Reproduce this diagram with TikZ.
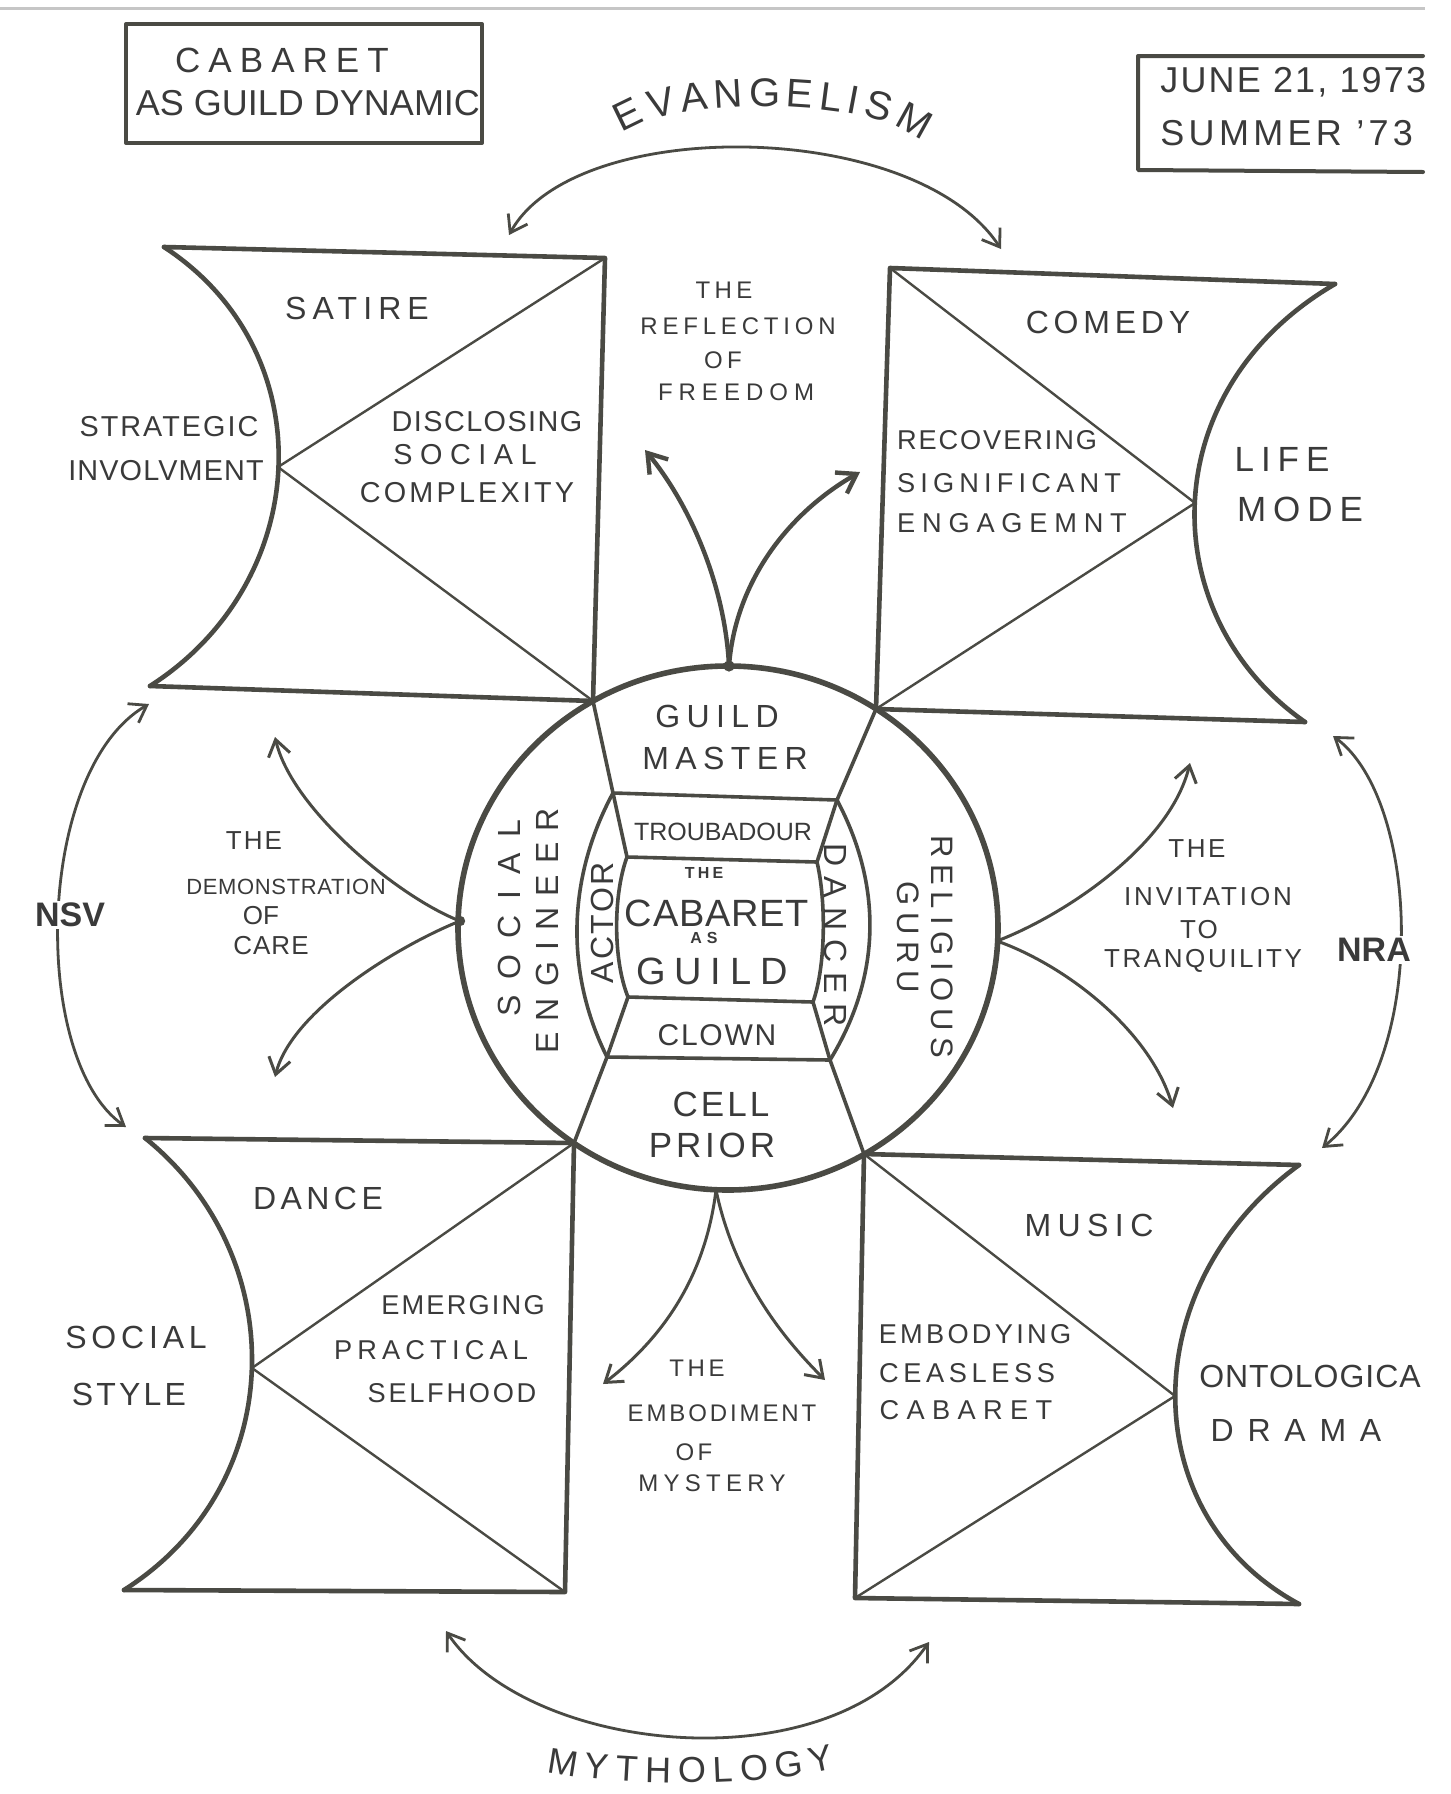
\documentclass[tikz,border=0pt]{standalone}
\usepackage{fontspec}
\setmainfont{Liberation Sans}
\usetikzlibrary{arrows.meta,decorations.text}
\definecolor{lc}{RGB}{74,74,68}
\definecolor{tc}{RGB}{58,58,58}
\newcommand\hsz[2]{\fontsize{#1}{#1}\selectfont\addfontfeature{LetterSpace=#2}}
\begin{document}
\begin{tikzpicture}[x=0.5pt,y=-0.5pt,
  outl/.style={draw=lc, line width=2.3pt, line join=round, line cap=round},
  diag/.style={draw=lc, line width=1.2pt, line cap=round},
  circ/.style={draw=lc, line width=2.8pt},
  inner/.style={draw=lc, line width=1.8pt, line cap=round, line join=round},
  arr/.style={draw=lc, line width=1.5pt, -{Straight Barb[length=8pt,width=11pt]}},
  arrw/.style={draw=lc, line width=2.2pt, -{Straight Barb[length=9pt,width=12pt]}},
  darr/.style={draw=lc, line width=1.4pt, {Straight Barb[length=8pt,width=11pt]}-{Straight Barb[length=8pt,width=11pt]}},
  lbl/.style={text=tc, inner sep=0pt}]
\fill[white] (0,0) rectangle (1451,1794);
\useasboundingbox (0,0) rectangle (1451,1794);
% top scan edge
\draw[gray!45, line width=1.5pt] (0,8) -- (1425,8);

% ---------- title box and date box
\draw[outl, line width=2pt] (126,24) rectangle (482,143);
\node[lbl, font=\hsz{17.5}{23}] (t1) at (282,60) {CABARET};
\node[lbl, font=\hsz{18}{0}] (t2) at (308,103) {AS GUILD DYNAMIC};
\draw[outl, line width=2pt] (1423,56) -- (1138,56) -- (1138,170) -- (1423,172);
\node[lbl, font=\hsz{18}{6}, anchor=west] (d1) at (1160,82) {JUNE 21, 1973};
\node[lbl, font=\hsz{18}{12}, anchor=west] (d2) at (1160,133) {SUMMER '73};

% ---------- circle
\coordinate (UL) at (593,701);
\coordinate (UR) at (876,709);
\coordinate (LL) at (574,1143);
\coordinate (LR) at (864,1154);
\draw[circ] (728,928) ellipse [x radius=135pt, y radius=131pt];

% ---------- top-left square (SATIRE)
\coordinate (A1) at (164,247); \coordinate (B1) at (605,258);
\coordinate (D1) at (150,686); \coordinate (E1) at (278,467);
\draw[outl] (A1) -- (B1) -- (UL) -- (D1);
\draw[outl] (A1) .. controls (325,352) and (313,582) .. (D1);
\draw[diag] (B1) -- (E1) -- (UL);

% ---------- top-right square (COMEDY)
\coordinate (A2) at (890,268); \coordinate (B2) at (1335,284);
\coordinate (C2) at (1305,722); \coordinate (E2) at (1195,503);
\draw[outl] (B2) -- (A2) -- (UR) -- (C2);
\draw[outl] (B2) .. controls (1153,390) and (1153,616) .. (C2);
\draw[diag] (A2) -- (E2) -- (UR);

% ---------- bottom-left square (DANCE)
\coordinate (A3) at (145,1138); \coordinate (C3) at (565,1592);
\coordinate (D3) at (124,1590); \coordinate (E3) at (252,1368);
\draw[outl] (A3) -- (LL) -- (C3) -- (D3);
\draw[outl] (A3) .. controls (291,1255) and (291,1484) .. (D3);
\draw[diag] (LL) -- (E3) -- (C3);

% ---------- bottom-right square (MUSIC)
\coordinate (B4) at (1299,1165); \coordinate (C4) at (1299,1604);
\coordinate (D4) at (855,1598); \coordinate (E4) at (1175,1396);
\draw[outl] (B4) -- (LR) -- (D4) -- (C4);
\draw[outl] (B4) .. controls (1134,1285) and (1134,1515) .. (C4);
\draw[diag] (LR) -- (E4) -- (D4);

% ---------- inner structure
\coordinate (P1) at (613,793); \coordinate (P2) at (837,800);
\coordinate (P3) at (627,857); \coordinate (P4) at (817,862);
\coordinate (P5) at (628,997); \coordinate (P6) at (813,1002);
\coordinate (P7) at (607,1057); \coordinate (P8) at (830,1060);
\draw[inner] (UL) -- (P1) -- (P2) -- (UR);
\draw[inner] (P1) -- (P3) -- (P4) -- (P2);
\draw[inner] (P5) -- (P6);
\draw[inner] (P5) -- (P7) -- (P8) -- (P6);
\draw[inner] (P7) -- (LL);
\draw[inner] (P8) -- (LR);
\draw[inner] (P1) .. controls (566,880) and (566,975) .. (P7);
\draw[inner] (P3) .. controls (613,895) and (613,960) .. (P5);
\draw[inner] (P2) .. controls (882,885) and (882,975) .. (P8);
\draw[inner] (P4) .. controls (826,900) and (826,965) .. (P6);

% ---------- arrows from the circle
\coordinate (rf0) at (729,666); \coordinate (rf1) at (645,450); \coordinate (rf2) at (860,472);
\draw[arrw] (rf0) .. controls (725,585) and (690,505) .. (rf1);
\draw[arrw] (rf0) .. controls (735,585) and (785,515) .. (rf2);
\fill[lc] (rf0) circle (2.8pt);

\coordinate (dm0) at (460,921); \coordinate (dm1) at (275,737); \coordinate (dm2) at (275,1077);
\draw[arr] (dm0) .. controls (400,898) and (292,810) .. (dm1);
\draw[arr] (dm0) .. controls (400,945) and (292,1010) .. (dm2);
\fill[lc] (dm0) circle (2.6pt);

\coordinate (iv0) at (997,941); \coordinate (iv1) at (1190,763); \coordinate (iv2) at (1173,1108);
\draw[arr] (iv0) .. controls (1065,915) and (1170,845) .. (iv1);
\draw[arr] (iv0) .. controls (1065,965) and (1150,1030) .. (iv2);

\coordinate (my0) at (716,1190); \coordinate (my1) at (603,1384); \coordinate (my2) at (825,1380);
\draw[arr] (my0) .. controls (705,1280) and (660,1340) .. (my1);
\draw[arr] (my0) .. controls (735,1280) and (785,1340) .. (my2);

% ---------- outer double arrows
\coordinate (evL) at (509,235); \coordinate (evR) at (1001,249);
\draw[darr] (evL) .. controls (575,115) and (915,118) .. (evR);
\coordinate (nsT) at (149,704); \coordinate (nsB) at (126,1127);
\draw[darr] (nsT) .. controls (35,770) and (30,1060) .. (nsB);
\coordinate (nrT) at (1333,736); \coordinate (nrB) at (1322,1148);
\draw[darr] (nrT) .. controls (1420,800) and (1430,1060) .. (nrB);
\coordinate (mtL) at (446,1631); \coordinate (mtR) at (929,1642);
\draw[darr] (mtL) .. controls (530,1755) and (830,1785) .. (mtR);

% ---------- curved labels
\path[decorate, decoration={text along path, text color=tc,
   text={|\hsz{20}{0}|EVANGELISM}, text align={fit to path}}]
   (622,134) .. controls (672,96) and (872,96) .. (922,142);
\path[decorate, decoration={text along path, text color=tc,
   text={|\hsz{18}{0}|MYTHOLOGY}, text align={fit to path}}]
   (547,1772) .. controls (620,1787) and (760,1787) .. (835,1768);

% ---------- centre labels
\node[lbl, font=\hsz{12}{18}] (rf_a) at (724,290) {THE};
\node[lbl, font=\hsz{12}{20}] (rf_b) at (738,326) {REFLECTION};
\node[lbl, font=\hsz{12}{18}] (rf_c) at (723,360) {OF};
\node[lbl, font=\hsz{12}{25}] (rf_d) at (736,392) {FREEDOM};

\node[lbl, font=\hsz{16}{19}] (sat) at (357,308) {SATIRE};
\node[lbl, font=\hsz{14.4}{5}] (sat_a) at (487,422) {DISCLOSING};
\node[lbl, font=\hsz{14.4}{26}] (sat_b) at (465,455) {SOCIAL};
\node[lbl, font=\hsz{14.4}{11}] (sat_c) at (467,493) {COMPLEXITY};
\node[lbl, font=\hsz{14.4}{7}] (sat_d) at (169,427) {STRATEGIC};
\node[lbl, font=\hsz{14.4}{4}] (sat_e) at (166,471) {INVOLVMENT};

\node[lbl, font=\hsz{16}{15}] (com) at (1108,322) {COMEDY};
\node[lbl, font=\hsz{13.6}{7}] (com_a) at (997,440) {RECOVERING};
\node[lbl, font=\hsz{13.6}{19}] (com_b) at (1009,483) {SIGNIFICANT};
\node[lbl, font=\hsz{13.6}{25}] (com_c) at (1012,523) {ENGAGEMNT};
\node[lbl, font=\hsz{17.5}{20}] (com_d) at (1282,459) {LIFE};
\node[lbl, font=\hsz{17.5}{20}] (com_e) at (1300,509) {MODE};

\node[lbl, font=\hsz{16}{20}] (gm_a) at (717,716) {GUILD};
\node[lbl, font=\hsz{16}{20}] (gm_b) at (725,758) {MASTER};
\node[lbl, font=\hsz{12.5}{0}] (trb) at (723,832) {TROUBADOUR};
\node[lbl, font=\bfseries\hsz{8}{20}] (cg_a) at (704,873) {THE};
\node[lbl, font=\hsz{19}{2}] (cg_b) at (717,913) {CABARET};
\node[lbl, font=\bfseries\hsz{8}{30}] (cg_c) at (704,938) {AS};
\node[lbl, font=\hsz{19}{23}] (cg_d) at (712,971) {GUILD};
\node[lbl, font=\hsz{15}{6}] (clw) at (717,1035) {CLOWN};
\node[lbl, font=\hsz{17.5}{9}] (cp_a) at (721,1104) {CELL};
\node[lbl, font=\hsz{17.5}{11}] (cp_b) at (712,1145) {PRIOR};
\node[lbl, font=\hsz{16}{8}, rotate=90] (act) at (602,923) {ACTOR};
\node[lbl, font=\hsz{16}{50}, rotate=90] (se_a) at (509,918) {SOCIAL};
\node[lbl, font=\hsz{16}{35}, rotate=90] (se_b) at (547,931) {ENGINEER};
\node[lbl, font=\hsz{16}{30}, rotate=-90] (dnc) at (836,935) {DANCER};
\node[lbl, font=\hsz{15.5}{22}, rotate=-90] (rg_a) at (942,947) {RELIGIOUS};
\node[lbl, font=\hsz{15.5}{22}, rotate=-90] (rg_b) at (908,937) {GURU};

\node[lbl, font=\hsz{13}{8}] (dm_a) at (254,841) {THE};
\node[lbl, font=\hsz{11}{3}] (dm_b) at (286,887) {DEMONSTRATION};
\node[lbl, font=\hsz{13}{0}] (dm_c) at (261,916) {OF};
\node[lbl, font=\hsz{13}{4}] (dm_d) at (271,946) {CARE};
\node[lbl, font=\bfseries\hsz{17}{0}, fill=white, inner sep=1pt] (nsv) at (70,915) {NSV};

\node[lbl, font=\hsz{13}{10}] (iv_a) at (1197,849) {THE};
\node[lbl, font=\hsz{13}{11}] (iv_b) at (1208,897) {INVITATION};
\node[lbl, font=\hsz{13}{8}] (iv_c) at (1199,930) {TO};
\node[lbl, font=\hsz{13}{10}] (iv_d) at (1203,961) {TRANQUILITY};
\node[lbl, font=\bfseries\hsz{17}{0}, fill=white, inner sep=1pt] (nra) at (1374,950) {NRA};

\node[lbl, font=\hsz{16}{14}] (dnc_t) at (318,1198) {DANCE};
\node[lbl, font=\hsz{13.6}{8}] (dn_a) at (463,1305) {EMERGING};
\node[lbl, font=\hsz{13.6}{19}] (dn_b) at (431,1350) {PRACTICAL};
\node[lbl, font=\hsz{13.6}{10}] (dn_c) at (452,1393) {SELFHOOD};
\node[lbl, font=\hsz{16}{15}] (dn_d) at (136,1337) {SOCIAL};
\node[lbl, font=\hsz{16}{10}] (dn_e) at (129,1394) {STYLE};

\node[lbl, font=\hsz{16}{20}] (mus) at (1089,1225) {MUSIC};
\node[lbl, font=\hsz{13.6}{12}] (mu_a) at (975,1334) {EMBODYING};
\node[lbl, font=\hsz{13.6}{17}] (mu_b) at (967,1373) {CEASLESS};
\node[lbl, font=\hsz{13.6}{27}] (mu_c) at (966,1410) {CABARET};
\node[lbl, font=\hsz{16}{3}] (mu_d) at (1310,1376) {ONTOLOGICA};
\node[lbl, font=\hsz{16}{43}] (mu_e) at (1296,1430) {DRAMA};

\node[lbl, font=\hsz{12}{15}] (ms_a) at (697,1368) {THE};
\node[lbl, font=\hsz{12}{12}] (ms_b) at (722,1413) {EMBODIMENT};
\node[lbl, font=\hsz{12}{14}] (ms_c) at (694,1452) {OF};
\node[lbl, font=\hsz{12}{22}] (ms_d) at (712,1483) {MYSTERY};
\end{tikzpicture}
\end{document}
